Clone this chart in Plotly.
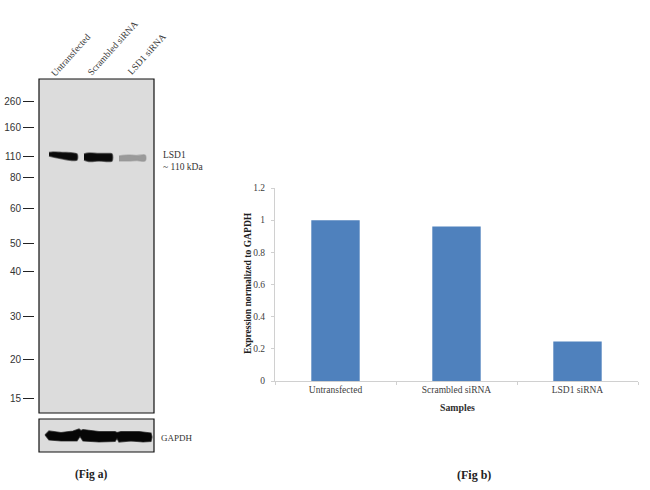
import plotly.graph_objects as go

W, H = 650, 490

def fx(px):
    return px / W

def fy(py):
    return 1 - py / H

# Fig b: densitometry
samples = ["Untransfected", "Scrambled siRNA", "LSD1 siRNA"]
expression = [1.0, 0.96, 0.245]
y_ticks = [0, 0.2, 0.4, 0.6, 0.8, 1, 1.2]

# Fig a: ladder, positions read down the membrane (0 = top edge, 334 = bottom edge)
ladder_labels = ["260", "160", "110", "80", "60", "50", "40", "30", "20", "15"]
ladder_migration = [22, 48, 77, 98, 129, 164, 192, 237, 280, 319]

# Band outlines in membrane units (x across, y down)
band1_x = [10, 14, 24, 34, 38, 38, 34, 24, 14, 10]
band1_y = [73.5, 73, 73.5, 74, 75, 81, 81.5, 80, 78, 77]
band2_x = [45, 50, 60, 70, 73, 73, 70, 60, 50, 45]
band2_y = [75, 74, 74.5, 74.5, 75, 82, 82.5, 82, 82.5, 81]
band3_x = [80, 90, 98, 106, 107, 106, 98, 90, 80]
band3_y = [77, 76, 76.5, 76, 79, 82, 81.5, 82, 82]

gapdh_x = [6, 10, 22, 34, 40, 42, 44, 60, 76, 78, 82, 100, 112, 113, 112, 104, 92, 80, 78, 76, 60, 44, 41, 38, 22, 10, 6]
gapdh_y = [16, 12, 13.5, 12, 10, 11.5, 10.5, 12.5, 12.5, 13.5, 12.5, 12.5, 14, 18, 22.5, 23, 22, 23, 19.5, 22.5, 23, 22, 17.5, 22, 22, 21, 16]

fig = go.Figure()

fig.add_trace(go.Bar(x=samples, y=expression, marker=dict(color="#4f81bd", line=dict(width=0)),
                     width=0.4, xaxis="x", yaxis="y", showlegend=False))

for xs, ys, fill, edge in [(band1_x, band1_y, "#0a0a0a", "rgba(40,40,40,0.6)"),
                           (band2_x, band2_y, "#0a0a0a", "rgba(40,40,40,0.6)"),
                           (band3_x, band3_y, "#9a9a9a", "rgba(150,150,150,0.5)")]:
    fig.add_trace(go.Scatter(x=xs, y=ys, mode="lines", fill="toself", fillcolor=fill, xaxis="x2", yaxis="y2",
                             showlegend=False, line=dict(color=edge, width=1.5, shape="spline")))
fig.add_trace(go.Scatter(x=gapdh_x, y=gapdh_y, mode="lines", fill="toself", fillcolor="#060606", xaxis="x3",
                         yaxis="y3", showlegend=False, line=dict(color="rgba(30,30,30,0.7)", width=1.2)))

serif = "Liberation Serif, Times New Roman, serif"
sans = "Liberation Sans, Arial, sans-serif"
axis_grey = "#d0d0d0"

fig.update_layout(
    template=None,
    width=W, height=H, margin=dict(l=0, r=0, t=0, b=0, pad=0), autosize=False,
    paper_bgcolor="white", plot_bgcolor="white",
    font=dict(family=serif, size=9, color="#404040"),
    xaxis=dict(domain=[fx(275), fx(638)], anchor="y", showline=True, linecolor=axis_grey, linewidth=1,
               ticks="outside", ticklen=3, tickcolor=axis_grey, tickson="boundaries", automargin=False, showgrid=False,
               tickfont=dict(family=serif, size=9.5, color="#404040")),
    yaxis=dict(domain=[fy(381), fy(188)], anchor="x", range=[0, 1.2], tickvals=y_ticks, automargin=False,
               ticktext=[str(v) for v in y_ticks], showgrid=False, zeroline=False,
               showline=True, linecolor=axis_grey, linewidth=1, ticks="outside", ticklen=3, tickcolor=axis_grey,
               ticklabelstandoff=4,
               tickfont=dict(family=serif, size=9.5, color="#404040")),
    xaxis2=dict(domain=[fx(39), fx(154)], anchor="y2", range=[0, 115], visible=False),
    yaxis2=dict(domain=[fy(413), fy(79)], anchor="free", position=fx(34), automargin=False,
                range=[334, 0], tickvals=ladder_migration, ticktext=ladder_labels, showgrid=False,
                zeroline=False, showline=False, ticks="outside", ticklen=11, tickwidth=1, tickcolor="#222",
                tickfont=dict(family=sans, size=10, color="#333")),
    xaxis3=dict(domain=[fx(39), fx(154)], anchor="y3", range=[0, 115], visible=False),
    yaxis3=dict(domain=[fy(452), fy(419)], anchor="x3", range=[33, 0], visible=False),
    shapes=[
        dict(type="rect", xref="x2 domain", yref="y2 domain", x0=0, x1=1, y0=0, y1=1,
             fillcolor="#dcdcdc", line=dict(color="#111", width=1.2), layer="below"),
        dict(type="rect", xref="x3 domain", yref="y3 domain", x0=0, x1=1, y0=0, y1=1,
             fillcolor="#dcdcdc", line=dict(color="#111", width=1.2), layer="below"),
    ],
)

def note(text, px, py, size=9, angle=0, color="#333", anchor="left", family=serif):
    fig.add_annotation(text=text, x=fx(px), y=fy(py), xref="paper", yref="paper", showarrow=False,
                       xanchor=anchor, yanchor="middle", textangle=angle,
                       font=dict(family=family, size=size, color=color))

note("Untransfected", 71, 55, size=9.5, angle=-48, anchor="center")
note("Scrambled siRNA", 113, 48, size=9.5, angle=-48, anchor="center")
note("LSD1 siRNA", 147, 54, size=9.5, angle=-48, anchor="center")
note("LSD1", 161, 155, size=9.5)
note("~ 110 kDa", 161, 167, size=9.5)
note("GAPDH", 159, 438)
note("<b>Expression normalized to GAPDH</b>", 247, 283, size=9.6, angle=-90, color="#202020", anchor="center")
note("<b>Samples</b>", 457, 407, size=9.8, color="#303030", anchor="center")
note("<b>(Fig a)</b>", 91, 474, size=11.5, color="#222", anchor="center")
note("<b>(Fig b)</b>", 474, 475, size=12, color="#222", anchor="center")

fig.write_html("out.html", config={"displayModeBar": False},
               post_script="document.body.style.margin='0';")
